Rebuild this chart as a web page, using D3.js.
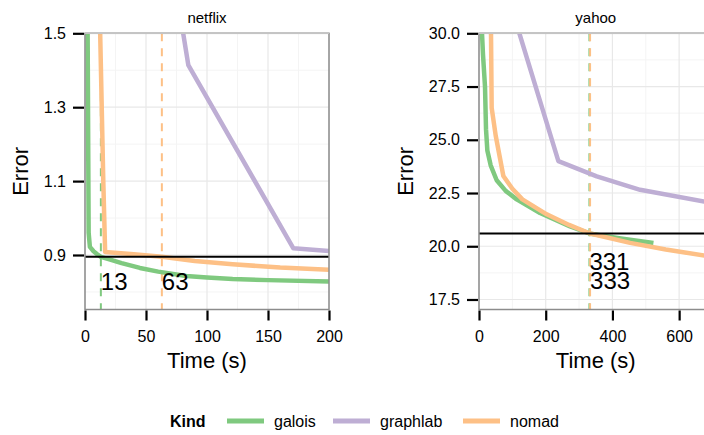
<!DOCTYPE html>
<html>
<head>
<meta charset="utf-8">
<script src="https://cdn.jsdelivr.net/npm/d3@7"></script>
<style>
  body { margin: 0; background: #fff; }
  text { font-family: "Liberation Sans", Arial, sans-serif; fill: #000; }
</style>
</head>
<body>
<div id="chart"></div>
<script>
// ---- data ----
const kinds = ["galois", "graphlab", "nomad"];
const colors = ["#7fc97f", "#beaed4", "#fdc086"];

// netflix panel: [time (s), error]
const netflixGalois = [[2, 1.6], [3, 0.96], [4, 0.922], [7, 0.91], [10, 0.902], [13, 0.895], [20, 0.888],
  [30, 0.878], [45, 0.865], [60, 0.855], [83, 0.843], [100, 0.839], [121, 0.835], [150, 0.832], [200, 0.828]];
const netflixGraphlab = [[79, 1.53], [84.7, 1.414], [170.8, 0.918], [200, 0.911]];
const netflixNomad = [[11.8, 1.6], [15, 1.1], [16.5, 0.908], [40, 0.902], [63, 0.895], [90, 0.884],
  [121, 0.875], [160, 0.866], [200, 0.86]];

// yahoo panel
const yahooGalois = [[6, 31], [12, 29], [18, 27.5], [21, 25.5], [25, 24.5], [35, 23.8], [53, 23.1], [80, 22.6],
  [113, 22.2], [183, 21.56], [273, 20.93], [331, 20.6], [420, 20.38], [523, 20.15]];
const yahooGraphlab = [[115, 30.3], [121, 30], [238, 24.0], [353, 23.28], [483, 22.65], [675, 22.1], [700, 22.05]];
const yahooNomad = [[35, 31], [36, 30], [38, 26.5], [50, 25.2], [73, 23.3], [100, 22.7], [130, 22.2],
  [203, 21.5], [270, 21.0], [333, 20.6], [453, 20.16], [560, 19.85], [700, 19.5]];

// target error (black line) and time to reach it: [kind, time, label y]
const netflixTarget = 0.895;
const netflixHits = [["galois", 13, 0.805], ["nomad", 63, 0.805]];
const yahooTarget = 20.6;
const yahooHits = [["galois", 331, 18.9], ["nomad", 333, 17.97]];

const netflixXTicks = [0, 50, 100, 150, 200];
const netflixYTicks = [0.9, 1.1, 1.3, 1.5];
const yahooXTicks = [0, 200, 400, 600];
const yahooYTicks = [17.5, 20.0, 22.5, 25.0, 27.5, 30.0];

const width = 704, height = 435;
const panelTop = 33.3, panelBottom = 309.5;

const svg = d3.select("#chart").append("svg")
  .attr("width", width)
  .attr("height", height);

const color = d3.scaleOrdinal().domain(kinds).range(colors);

function drawPanel(p) {
  const x = d3.scaleLinear().domain(p.xDomain).range([p.left, p.right]);
  const y = d3.scaleLinear().domain(p.yDomain).range([panelBottom, panelTop]);
  const g = svg.append("g");

  const clipId = "clip-" + p.title;
  svg.append("clipPath").attr("id", clipId)
    .append("rect")
    .attr("x", p.left).attr("y", panelTop)
    .attr("width", p.right - p.left).attr("height", panelBottom - panelTop);

  // minor grid
  g.selectAll(".minx").data(p.xMinor).join("line")
    .attr("x1", d => x(d)).attr("x2", d => x(d))
    .attr("y1", panelTop).attr("y2", panelBottom)
    .attr("stroke", "#f4f4f4").attr("stroke-width", 1);
  g.selectAll(".miny").data(p.yMinor).join("line")
    .attr("x1", p.left).attr("x2", p.right)
    .attr("y1", d => y(d)).attr("y2", d => y(d))
    .attr("stroke", "#f4f4f4").attr("stroke-width", 1);
  // major grid
  g.selectAll(".majx").data(p.xTicks).join("line")
    .attr("x1", d => x(d)).attr("x2", d => x(d))
    .attr("y1", panelTop).attr("y2", panelBottom)
    .attr("stroke", "#e8e8e8").attr("stroke-width", 1.2);
  g.selectAll(".majy").data(p.yTicks).join("line")
    .attr("x1", p.left).attr("x2", p.right)
    .attr("y1", d => y(d)).attr("y2", d => y(d))
    .attr("stroke", "#e8e8e8").attr("stroke-width", 1.2);

  const plot = g.append("g").attr("clip-path", `url(#${clipId})`);

  // dashed lines at time to target
  plot.selectAll(".vline").data(p.hits).join("line")
    .attr("x1", d => x(d[1])).attr("x2", d => x(d[1]))
    .attr("y1", panelTop).attr("y2", panelBottom)
    .attr("stroke", d => color(d[0]))
    .attr("stroke-width", 2)
    .attr("stroke-dasharray", "8,7");

  // series
  const line = d3.line().x(d => x(d[0])).y(d => y(d[1]));
  plot.selectAll(".series").data(p.series).join("path")
    .attr("d", d => line(d.values))
    .attr("fill", "none")
    .attr("stroke", d => color(d.kind))
    .attr("stroke-width", 4.5)
    .attr("stroke-linejoin", "round");

  // target line
  plot.append("line")
    .attr("x1", p.left).attr("x2", p.right)
    .attr("y1", y(p.target)).attr("y2", y(p.target))
    .attr("stroke", "#000").attr("stroke-width", 2);

  // labels
  g.selectAll(".lab").data(p.hits).join("text")
    .attr("x", d => x(d[1]))
    .attr("y", d => y(d[2]))
    .style("font-size", "24px")
    .text(d => d[1]);

  // panel border
  g.append("rect")
    .attr("x", p.left).attr("y", panelTop)
    .attr("width", p.right - p.left).attr("height", panelBottom - panelTop)
    .attr("fill", "none").attr("stroke", "#8c8c8c").attr("stroke-width", 1.5);
  g.append("line")
    .attr("x1", p.left).attr("x2", p.right)
    .attr("y1", panelTop).attr("y2", panelTop)
    .attr("stroke", "#c4c4c4").attr("stroke-width", 1.6);

  // axes
  const xAxis = g.append("g")
    .attr("transform", `translate(0,${panelBottom + 1})`)
    .call(d3.axisBottom(x).tickValues(p.xTicks).tickSize(10).tickPadding(10).tickFormat(d3.format("d")));
  const yAxis = g.append("g")
    .attr("transform", `translate(${p.left - 1},0)`)
    .call(d3.axisLeft(y).tickValues(p.yTicks).tickSize(11).tickPadding(7).tickFormat(d3.format(p.yFormat)));
  [xAxis, yAxis].forEach(a => {
    a.select(".domain").remove();
    a.selectAll(".tick line").attr("stroke", "#000").attr("stroke-width", 2.2);
    a.selectAll(".tick text").style("font-size", "16px").attr("fill", "#000")
      .style("font-family", "Liberation Sans, Arial, sans-serif");
  });

  // strip title
  g.append("text")
    .attr("x", (p.left + p.right) / 2).attr("y", 23)
    .attr("text-anchor", "middle")
    .style("font-size", "15px")
    .text(p.title);

  // axis titles
  g.append("text")
    .attr("x", (p.left + p.right) / 2).attr("y", 368)
    .attr("text-anchor", "middle")
    .style("font-size", "22px")
    .text("Time (s)");
  g.append("text")
    .attr("transform", `translate(${p.yTitleX},${(panelTop + panelBottom) / 2}) rotate(-90)`)
    .attr("text-anchor", "middle")
    .style("font-size", "22px")
    .text("Error");
}

drawPanel({
  title: "netflix",
  left: 85, right: 329,
  xDomain: [0, 200], yDomain: [0.7525, 1.5],
  xTicks: netflixXTicks, yTicks: netflixYTicks,
  xMinor: [25, 75, 125, 175], yMinor: [0.8, 1.0, 1.2, 1.4],
  yFormat: ".1f",
  target: netflixTarget, hits: netflixHits,
  yTitleX: 28,
  series: [
    {kind: "galois", values: netflixGalois},
    {kind: "graphlab", values: netflixGraphlab},
    {kind: "nomad", values: netflixNomad}
  ]
});

drawPanel({
  title: "yahoo",
  left: 479, right: 712.5,
  xDomain: [0, 700], yDomain: [17.03, 30],
  xTicks: yahooXTicks, yTicks: yahooYTicks,
  xMinor: [100, 300, 500, 700], yMinor: [18.75, 21.25, 23.75, 26.25, 28.75],
  yFormat: ".1f",
  target: yahooTarget, hits: yahooHits,
  yTitleX: 413,
  series: [
    {kind: "galois", values: yahooGalois},
    {kind: "graphlab", values: yahooGraphlab},
    {kind: "nomad", values: yahooNomad}
  ]
});

// legend
const legend = svg.append("g");
legend.append("text")
  .attr("x", 170).attr("y", 427)
  .style("font-size", "16px").style("font-weight", "bold")
  .text("Kind");
const legendX = [227, 333, 463];
const item = legend.selectAll(".item").data(kinds).join("g")
  .attr("transform", (d, i) => `translate(${legendX[i]},0)`);
item.append("line")
  .attr("x1", 0).attr("x2", 37).attr("y1", 421).attr("y2", 421)
  .attr("stroke", d => color(d)).attr("stroke-width", 5);
item.append("text")
  .attr("x", 47).attr("y", 427)
  .style("font-size", "16px")
  .text(d => d);
</script>
</body>
</html>
